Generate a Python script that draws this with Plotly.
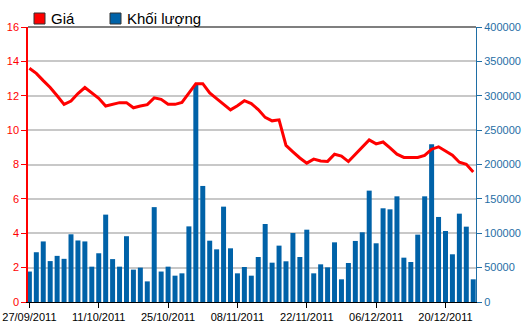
import pandas as pd
import plotly.graph_objects as go

dates = list(pd.bdate_range("2011-09-27", periods=65).strftime("%d/%m/%Y"))

gia = [13.6, 13.3, 12.88, 12.48, 12.0, 11.5, 11.69, 12.13, 12.48, 12.17,
       11.85, 11.4, 11.5, 11.6, 11.6, 11.3, 11.4, 11.48, 11.88, 11.79,
       11.5, 11.5, 11.61, 12.16, 12.7, 12.7, 12.16, 11.83, 11.48, 11.18,
       11.42, 11.71, 11.54, 11.2, 10.74, 10.54, 10.6, 9.11, 8.74, 8.38,
       8.08, 8.31, 8.2, 8.18, 8.6, 8.49, 8.17, 8.6, 9.0, 9.43,
       9.2, 9.31, 8.97, 8.6, 8.41, 8.41, 8.41, 8.53, 8.89, 9.03,
       8.78, 8.54, 8.13, 8.01, 7.57]

khoi_luong = [44300, 72400, 88100, 59500, 67100, 62800, 98500, 89500, 88100, 51400,
              70900, 127100, 62400, 51400, 95700, 47100, 50000, 30000, 138000, 44300,
              51400, 38300, 41700, 110000, 315700, 168800, 89200, 76600, 138700, 78100,
              41700, 50900, 38300, 65500, 113500, 57200, 82000, 59200, 100400, 65500,
              105200, 41700, 54800, 50400, 86800, 33000, 56700, 88800, 101400, 162000,
              85400, 136300, 134800, 153700, 64500, 58200, 98000, 153700, 229400, 123700,
              103300, 69400, 128500, 109600, 33000]

tick_dates = dates[::10]
price_ticks = list(range(0, 17, 2))
vol_ticks = list(range(0, 400001, 50000))
vol_labels = [str(v) for v in vol_ticks]

RED = "#ff0000"
BLUE = "#0062a8"
AXBLUE = "#1f6ea5"
FONT = "Liberation Sans"

fig = go.Figure()
fig.add_trace(go.Bar(x=dates, y=khoi_luong, name="Khối lượng", marker_color=BLUE,
                     marker_line_width=0, yaxis="y", showlegend=False))
fig.add_trace(go.Scatter(x=dates, y=gia, name="Giá", mode="lines",
                         line=dict(color=RED, width=3), yaxis="y2", showlegend=False))

W, H = 529, 323
L, R, T, B = 28, 53, 27, 21
pw, ph = W - L - R, H - T - B

def px(x):
    return (x - L) / pw

def py(y):
    return (H - B - y) / ph

fig.update_layout(
    width=W, height=H,
    margin=dict(l=L, r=R, t=T, b=B, autoexpand=False),
    paper_bgcolor="white", plot_bgcolor="white",
    font=dict(family=FONT, size=11),
    bargap=0.28,
    xaxis=dict(type="category", range=[-0.2, 64.4], tickmode="array",
               tickvals=tick_dates, ticktext=tick_dates, automargin=False,
               showline=True, linecolor="black", linewidth=1,
               ticks="outside", ticklen=5, tickcolor="black",
               tickfont=dict(color="black", size=11), showgrid=False),
    yaxis=dict(side="right", range=[0, 400000], tickmode="array", tickvals=vol_ticks,
               ticktext=vol_labels, automargin=False,
               showline=True, linecolor=AXBLUE, linewidth=1,
               ticks="outside", ticklen=5, tickcolor=AXBLUE,
               tickfont=dict(color=AXBLUE, size=11),
               showgrid=True, gridcolor="#c8c8c8", gridwidth=1.5, zeroline=False),
    yaxis2=dict(side="left", overlaying="y", range=[0, 16], tickmode="array",
                tickvals=price_ticks, automargin=False,
                showline=True, linecolor=RED, linewidth=1.5,
                ticks="outside", ticklen=5, tickcolor=RED,
                tickfont=dict(color=RED, size=11),
                showgrid=False, zeroline=False),
    shapes=[
        dict(type="line", xref="paper", yref="paper", x0=0, x1=1, y0=1, y1=1,
             line=dict(color="#555555", width=1.5), layer="above"),
        dict(type="rect", xref="paper", yref="paper", x0=px(34), x1=px(45),
             y0=py(24), y1=py(13), fillcolor=RED, line=dict(color="#333333", width=1)),
        dict(type="rect", xref="paper", yref="paper", x0=px(110), x1=px(121),
             y0=py(24), y1=py(13), fillcolor=BLUE, line=dict(color="#333333", width=1)),
    ],
    annotations=[
        dict(text="Giá", xref="paper", yref="paper", x=px(49), y=py(18),
             xanchor="left", yanchor="middle", showarrow=False,
             font=dict(family=FONT, size=15, color="black")),
        dict(text="Khối lượng", xref="paper", yref="paper", x=px(125), y=py(18),
             xanchor="left", yanchor="middle", showarrow=False,
             font=dict(family=FONT, size=15, color="black")),
    ],
)

fig.write_html("out.html")
